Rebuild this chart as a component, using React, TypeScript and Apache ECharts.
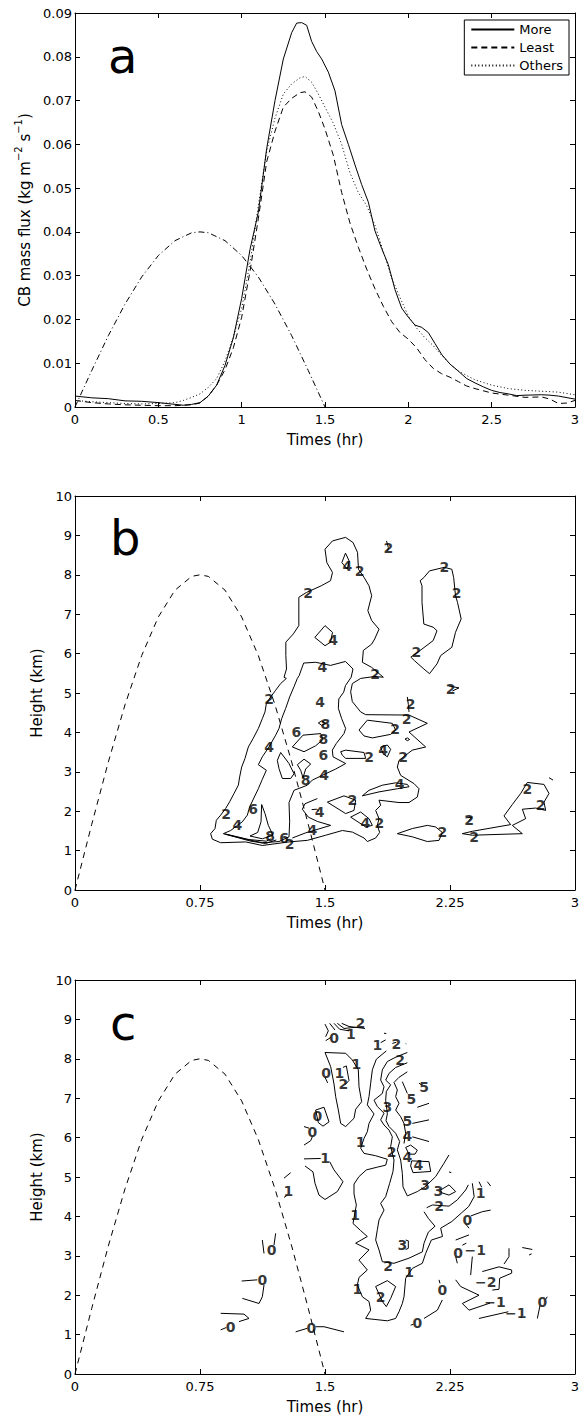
import React, { useEffect, useRef } from "react";
import * as echarts from "echarts";

type Pt = [number, number];
type Lbl = [number, number, string];

// ---------------- Panel a: CB mass flux time series ----------------
const moreFlux: Pt[] = [
  [0, 0.0025], [0.1, 0.0021], [0.2, 0.0019], [0.3, 0.0014], [0.4, 0.0013], [0.5, 0.001], [0.6, 0.0006],
  [0.65, 0.0004], [0.7, 0.0006], [0.75, 0.001], [0.8, 0.0025], [0.85, 0.005], [0.9, 0.0095], [0.95, 0.0158],
  [1.0, 0.0248], [1.05, 0.036], [1.1, 0.0445], [1.15, 0.059], [1.2, 0.07], [1.25, 0.0795], [1.3, 0.0855],
  [1.33, 0.0877], [1.36, 0.0878], [1.39, 0.0872], [1.42, 0.0835], [1.45, 0.0812], [1.48, 0.0795],
  [1.52, 0.0765], [1.56, 0.0722], [1.6, 0.0645], [1.64, 0.06], [1.68, 0.0553], [1.72, 0.0508],
  [1.76, 0.0468], [1.8, 0.0402], [1.84, 0.0362], [1.88, 0.0325], [1.92, 0.0268], [1.96, 0.0226],
  [2.0, 0.0205], [2.04, 0.0187], [2.08, 0.0182], [2.12, 0.017], [2.16, 0.0145], [2.2, 0.012],
  [2.25, 0.0098], [2.3, 0.0082], [2.35, 0.0065], [2.4, 0.0055], [2.45, 0.0046], [2.5, 0.0038],
  [2.55, 0.0033], [2.6, 0.003], [2.65, 0.0026], [2.7, 0.0027], [2.8, 0.0028], [2.85, 0.0027],
  [2.9, 0.0025], [3.0, 0.0018],
];
const leastFlux: Pt[] = [
  [0, 0.0015], [0.1, 0.001], [0.2, 0.0007], [0.3, 0.0005], [0.4, 0.0004], [0.5, 0.0003], [0.6, 0.0003],
  [0.7, 0.0005], [0.75, 0.0009], [0.8, 0.0025], [0.85, 0.005], [0.9, 0.0085], [0.95, 0.0135], [1.0, 0.0205],
  [1.05, 0.031], [1.1, 0.043], [1.15, 0.056], [1.2, 0.063], [1.25, 0.0685], [1.3, 0.0705], [1.35, 0.0718],
  [1.38, 0.072], [1.42, 0.0708], [1.46, 0.0675], [1.5, 0.0635], [1.55, 0.0575], [1.6, 0.049],
  [1.65, 0.042], [1.7, 0.0365], [1.75, 0.0315], [1.8, 0.027], [1.85, 0.023], [1.9, 0.0195],
  [1.95, 0.017], [2.0, 0.0155], [2.05, 0.0135], [2.1, 0.0108], [2.15, 0.0088], [2.2, 0.0076],
  [2.25, 0.0068], [2.3, 0.0058], [2.35, 0.0048], [2.4, 0.0042], [2.5, 0.0032], [2.6, 0.0027],
  [2.7, 0.0022], [2.8, 0.0023], [2.85, 0.0018], [2.9, 0.0008], [2.95, 0.0009], [3.0, 0.0015],
];
const othersFlux: Pt[] = [
  [0, 0.0015], [0.1, 0.0012], [0.2, 0.001], [0.3, 0.0008], [0.4, 0.0007], [0.5, 0.0008], [0.6, 0.001],
  [0.65, 0.0015], [0.7, 0.0022], [0.75, 0.003], [0.8, 0.0045], [0.85, 0.0065], [0.9, 0.0105], [0.95, 0.016],
  [1.0, 0.0225], [1.05, 0.033], [1.1, 0.046], [1.15, 0.0585], [1.2, 0.066], [1.25, 0.0715], [1.3, 0.0738],
  [1.35, 0.0752], [1.38, 0.0755], [1.42, 0.0742], [1.46, 0.0715], [1.5, 0.0685], [1.55, 0.0648],
  [1.6, 0.06], [1.65, 0.0535], [1.7, 0.049], [1.75, 0.046], [1.8, 0.0415], [1.85, 0.0355], [1.9, 0.0295],
  [1.95, 0.025], [2.0, 0.0208], [2.05, 0.018], [2.1, 0.0158], [2.15, 0.014], [2.2, 0.0118], [2.25, 0.0098],
  [2.3, 0.0082], [2.4, 0.0062], [2.5, 0.005], [2.6, 0.0042], [2.7, 0.0038], [2.8, 0.0036], [2.9, 0.0034],
  [3.0, 0.0028],
];
const forcingFlux: Pt[] = [
  [0, 0], [0.1, 0.0083], [0.2, 0.0163], [0.3, 0.0235], [0.4, 0.0297], [0.5, 0.0346], [0.6, 0.038],
  [0.7, 0.0398], [0.75, 0.04], [0.8, 0.0398], [0.9, 0.038], [1.0, 0.0346], [1.1, 0.0297], [1.2, 0.0235],
  [1.3, 0.0163], [1.4, 0.0083], [1.5, 0],
];
const legendNames = ["More", "Least", "Others"];

// ---------------- Forcing height curve (panels b, c) ----------------
const forcingHeight: Pt[] = [
  [0, 0], [0.1, 1.66], [0.2, 3.25], [0.3, 4.7], [0.4, 5.95], [0.5, 6.93], [0.6, 7.61], [0.7, 7.96],
  [0.75, 8.0], [0.8, 7.96], [0.9, 7.61], [1.0, 6.93], [1.1, 5.95], [1.2, 4.7], [1.3, 3.25], [1.4, 1.66], [1.5, 0],
];

// ---------------- Panel b contour lines ----------------
const bOuter2: Pt[] = [
  [1.268, 5.37], [1.234, 5.24], [1.204, 5.07], [1.174, 4.9], [1.148, 4.73], [1.14, 4.52], [1.124, 4.35],
  [1.1, 4.1], [1.068, 3.84], [1.04, 3.63], [1.02, 3.34], [1.0, 3.12], [0.988, 2.87], [0.98, 2.66],
  [0.954, 2.45], [0.928, 2.24], [0.904, 2.07], [0.874, 1.9], [0.848, 1.77], [0.84, 1.56], [0.814, 1.43],
  [0.824, 1.29], [0.874, 1.2], [1.024, 1.22], [1.124, 1.13], [1.284, 1.22], [1.394, 1.26], [1.504, 1.39],
  [1.604, 1.51], [1.664, 1.47], [1.734, 1.32], [1.754, 1.23], [1.804, 1.32], [1.828, 1.46], [1.814, 1.64],
  [1.824, 1.81], [1.804, 2.02], [1.834, 2.15], [1.824, 2.28], [1.944, 2.22], [2.004, 2.22], [2.054, 2.36],
  [2.064, 2.57], [2.034, 2.7], [1.954, 2.91], [1.934, 3.12], [1.944, 3.29], [2.024, 3.55], [2.104, 3.63],
  [2.004, 4.01], [2.114, 4.23], [2.004, 4.44], [1.744, 4.45], [1.714, 4.52], [1.664, 4.78], [1.654, 5.03],
  [1.664, 5.24], [1.714, 5.37], [1.8, 5.42], [1.85, 5.4], [1.78, 5.65], [1.724, 5.78], [1.73, 6.08],
  [1.78, 6.24], [1.798, 6.37], [1.824, 6.62], [1.78, 6.84], [1.757, 7.09], [1.78, 7.47], [1.764, 7.72],
  [1.735, 7.93], [1.701, 8.14], [1.695, 8.57], [1.668, 8.82], [1.623, 8.95], [1.545, 8.86], [1.5, 8.65],
  [1.511, 8.31], [1.545, 8.06], [1.533, 7.85], [1.477, 7.72], [1.388, 7.55], [1.343, 7.43], [1.343, 6.71],
  [1.31, 6.5], [1.265, 6.29], [1.265, 5.95], [1.269, 5.61], [1.254, 5.4],
];
const bMain4: Pt[] = [
  [1.334, 5.37], [1.314, 5.16], [1.288, 4.9], [1.264, 4.61], [1.24, 4.35], [1.224, 4.1], [1.204, 3.93],
  [1.164, 3.63], [1.124, 3.38], [1.1, 3.18], [1.148, 3.04], [1.124, 2.81], [1.1, 2.57], [1.076, 2.36],
  [1.048, 2.11], [1.034, 1.9], [1.004, 1.73], [0.974, 1.64], [0.934, 1.51], [0.89, 1.43], [1.024, 1.29],
  [1.124, 1.2], [1.224, 1.23], [1.284, 1.35], [1.288, 1.73], [1.284, 2.22], [1.314, 2.53], [1.394, 2.66],
  [1.424, 2.79], [1.564, 3.07], [1.624, 3.21], [1.548, 3.38], [1.544, 3.55], [1.568, 3.72], [1.614, 3.97],
  [1.624, 4.1], [1.6, 4.35], [1.58, 4.61], [1.583, 4.85], [1.612, 5.02], [1.623, 5.19], [1.657, 5.4],
  [1.668, 5.61], [1.623, 5.8], [1.533, 5.7], [1.444, 5.78], [1.372, 5.76], [1.359, 5.61], [1.345, 5.44],
];
const bLow4: Pt[] = [[1.304, 1.32], [1.384, 1.45], [1.534, 1.64], [1.454, 1.74], [1.4, 1.85], [1.364, 2.05], [1.38, 2.19], [1.454, 2.32]];
const bSix1: Pt[] = [[1.05, 1.37], [1.096, 1.46], [1.116, 1.73], [1.12, 2.17], [1.14, 1.94], [1.16, 1.64], [1.188, 1.39], [1.124, 1.3]];
const bSix2: Pt[] = [[1.304, 3.63], [1.368, 3.93], [1.474, 3.97], [1.488, 3.82], [1.444, 3.66], [1.374, 3.51]];
const bSix3: Pt[] = [[1.234, 3.49], [1.284, 3.21], [1.314, 2.95], [1.294, 2.83], [1.244, 2.83], [1.224, 3.08], [1.214, 3.29]];
const bSixBase: Pt[] = [[0.898, 1.42], [1.054, 1.24], [1.144, 1.18], [1.208, 1.27]];
const bEightBase: Pt[] = [[0.904, 1.42], [1.044, 1.28], [1.148, 1.24], [1.174, 1.3]];
const bEight1: Pt[] = [[1.334, 3.18], [1.374, 3.32], [1.414, 3.2], [1.384, 3.07], [1.368, 2.85], [1.354, 3.04]];
const bEight2: Pt[] = [[1.46, 4.24], [1.48, 4.29], [1.504, 4.22], [1.48, 4.18]];
const bFourDiamond: Pt[] = [[1.439, 6.41], [1.5, 6.71], [1.545, 6.54], [1.533, 6.29], [1.5, 6.2]];
const bFourTop: Pt[] = [[1.601, 8.31], [1.623, 8.55], [1.645, 8.35], [1.634, 8.14]];
const bFourTick: Pt[] = [[1.42, 2.04], [1.448, 2.05], [1.464, 2.0]];
const bFourTri: Pt[] = [[1.654, 1.85], [1.714, 1.98], [1.764, 1.81], [1.784, 1.64], [1.744, 1.6]];
const bFourLeaf: Pt[] = [[1.724, 2.39], [1.764, 2.53], [1.844, 2.66], [1.924, 2.72], [1.994, 2.68], [2.004, 2.62], [1.934, 2.57], [1.824, 2.49]];
const bFourSmall: Pt[] = [[1.834, 3.63], [1.874, 3.68], [1.894, 3.57], [1.874, 3.38], [1.848, 3.46]];
const bTwoHoleA: Pt[] = [[1.514, 2.23], [1.614, 2.39], [1.684, 2.28], [1.674, 2.02], [1.624, 1.94]];
const bTwoHoleB: Pt[] = [[1.594, 3.51], [1.624, 3.55], [1.734, 3.49], [1.744, 3.34], [1.624, 3.34], [1.604, 3.42]];
const bTwoHoleC: Pt[] = [[1.704, 4.06], [1.754, 4.31], [1.904, 4.23], [1.924, 4.06], [1.894, 3.95], [1.784, 3.86], [1.734, 3.91]];
const bTwoDot: Pt[] = [[1.98, 3.83], [1.994, 3.86], [2.008, 3.82], [1.994, 3.79]];
const bTwoStub: Pt[] = [[1.994, 4.9], [2.0, 4.71], [2.004, 4.52]];
const bTwoHook: Pt[] = [[2.24, 5.18], [2.304, 5.13], [2.264, 5.05]];
const bTwoHigh: Pt[] = [[1.869, 8.86], [1.88, 8.69], [1.876, 8.61]];
const bTwoTall: Pt[] = [
  [2.093, 7.93], [2.127, 8.1], [2.216, 8.19], [2.261, 8.14], [2.272, 7.93], [2.283, 7.47], [2.295, 7.3],
  [2.317, 6.88], [2.283, 6.54], [2.261, 6.16], [2.194, 5.95], [2.172, 5.74], [2.127, 5.49], [2.093, 5.61],
  [2.037, 5.82], [2.015, 5.91], [2.071, 6.08], [2.149, 6.33], [2.172, 6.58], [2.149, 6.67], [2.093, 6.75],
  [2.082, 7.3], [2.082, 7.72], [2.071, 7.85],
];
const bTwoLens: Pt[] = [[1.934, 1.43], [2.024, 1.56], [2.114, 1.64], [2.164, 1.6], [2.204, 1.46], [2.184, 1.26], [2.114, 1.23], [2.024, 1.35]];
const bTwoEast: Pt[] = [
  [2.324, 1.43], [2.384, 1.39], [2.684, 1.43], [2.624, 1.64], [2.704, 1.81], [2.684, 2.05], [2.764, 2.08],
  [2.824, 2.02], [2.814, 2.23], [2.844, 2.45], [2.814, 2.68], [2.714, 2.73], [2.674, 2.45], [2.624, 2.17],
  [2.574, 1.88], [2.614, 1.66], [2.384, 1.49],
];
const bTwoTick: Pt[] = [[2.344, 1.83], [2.384, 1.85], [2.36, 1.75]];
const bTwoCorner: Pt[] = [[2.844, 2.85], [2.868, 2.79]];

const bLabels: Lbl[] = [
  [0.907, 1.94, "2"], [1.164, 4.85, "2"], [1.399, 7.55, "2"], [1.708, 8.1, "2"], [1.8, 5.49, "2"],
  [1.287, 1.17, "2"], [1.826, 1.69, "2"], [1.968, 3.38, "2"], [1.99, 4.35, "2"], [2.014, 4.73, "2"],
  [1.92, 4.08, "2"], [1.764, 3.38, "2"], [1.664, 2.28, "2"], [2.204, 1.46, "2"], [2.254, 5.1, "2"],
  [1.88, 8.69, "2"], [2.216, 8.21, "2"], [2.29, 7.55, "2"], [2.048, 6.03, "2"], [2.714, 2.57, "2"],
  [2.794, 2.15, "2"], [2.394, 1.35, "2"], [2.364, 1.77, "2"],
  [1.164, 3.63, "4"], [0.974, 1.64, "4"], [1.484, 5.65, "4"], [1.471, 4.77, "4"], [1.494, 2.91, "4"],
  [1.424, 1.52, "4"], [1.468, 1.98, "4"], [1.742, 1.71, "4"], [1.848, 3.55, "4"], [1.948, 2.7, "4"],
  [1.549, 6.35, "4"], [1.634, 8.23, "4"],
  [1.068, 2.05, "6"], [1.254, 1.33, "6"], [1.328, 4.01, "6"], [1.49, 3.43, "6"],
  [1.17, 1.37, "8"], [1.384, 2.79, "8"], [1.502, 4.22, "8"], [1.49, 3.82, "8"],
];

// ---------------- Panel c contour lines ----------------
const cFan1: Pt[] = [[1.5, 8.88], [1.52, 8.71], [1.504, 8.56]];
const cFan2: Pt[] = [[1.528, 8.9], [1.56, 8.73]];
const cFan3: Pt[] = [[1.554, 8.9], [1.588, 8.75], [1.644, 8.71]];
const cFan4: Pt[] = [[1.574, 8.9], [1.614, 8.77], [1.684, 8.8]];
const cFan5: Pt[] = [[1.6, 8.9], [1.644, 8.82], [1.74, 8.77]];
const cZeroTop: Pt[] = [[1.504, 8.46], [1.534, 8.54]];
const cOneTick1: Pt[] = [[1.834, 8.41], [1.864, 8.48]];
const cOneTick2: Pt[] = [[1.854, 8.65], [1.868, 8.64]];
const cTwoTick1: Pt[] = [[1.904, 8.39], [1.928, 8.42]];
const cTwoTick2: Pt[] = [[1.984, 8.39], [1.988, 8.38]];
const cOneLoop: Pt[] = [
  [1.5, 8.16], [1.624, 8.14], [1.664, 7.97], [1.7, 7.72], [1.704, 7.29], [1.72, 6.91], [1.684, 6.72],
  [1.674, 6.49], [1.624, 6.28], [1.594, 6.36], [1.58, 6.7], [1.564, 7.04], [1.554, 7.36], [1.534, 7.8],
];
const cTwoSmall: Pt[] = [[1.608, 7.78], [1.628, 7.82], [1.644, 7.45], [1.62, 7.34]];
const cZeroSmall: Pt[] = [[1.5, 7.53], [1.516, 7.39]];
const cOneLong: Pt[] = [
  [1.868, 8.2], [1.808, 7.99], [1.784, 7.72], [1.774, 7.38], [1.764, 7.04], [1.754, 6.83], [1.794, 6.6],
  [1.764, 6.36], [1.754, 6.15], [1.734, 5.98], [1.714, 5.73], [1.734, 5.6], [1.804, 5.54], [1.874, 5.45],
  [1.864, 5.3], [1.814, 5.25], [1.748, 5.18], [1.704, 5.01], [1.674, 4.82], [1.674, 4.57], [1.688, 4.29],
  [1.668, 3.82], [1.714, 3.64], [1.754, 3.49], [1.684, 3.32], [1.764, 3.15], [1.704, 2.89], [1.754, 2.64],
  [1.704, 2.45], [1.694, 2.26], [1.724, 1.96], [1.764, 1.84], [1.774, 1.62], [1.744, 1.41], [1.874, 1.35],
  [1.924, 1.41], [1.944, 1.58], [1.964, 1.79], [1.974, 1.96], [1.984, 2.43], [2.024, 2.68], [2.084, 2.81],
  [2.104, 3.06], [2.138, 3.4], [2.205, 3.49], [2.194, 3.7], [2.261, 3.87], [2.317, 4.08], [2.362, 4.25],
  [2.395, 4.5], [2.384, 4.84],
];
const cTwoLong: Pt[] = [
  [1.994, 8.16], [1.928, 8.05], [1.874, 7.93], [1.844, 7.72], [1.834, 7.46], [1.854, 7.29], [1.844, 7.12],
  [1.794, 6.95], [1.814, 6.79], [1.854, 6.62], [1.834, 6.45], [1.854, 6.32], [1.884, 6.19], [1.904, 6.02],
  [1.894, 5.77], [1.914, 5.43], [1.908, 5.14], [1.888, 4.84], [1.864, 4.5], [1.834, 4.33], [1.854, 4.16],
  [1.824, 3.91], [1.814, 3.66], [1.804, 3.4], [1.824, 3.15], [1.844, 2.85], [1.914, 2.81], [2.004, 2.94],
  [2.084, 3.1], [2.094, 3.32], [2.12, 3.6], [2.16, 3.75], [2.12, 3.95], [2.094, 4.12],
];
const cThreeLong: Pt[] = [
  [1.994, 7.9], [1.924, 7.78], [1.884, 7.63], [1.864, 7.46], [1.894, 7.34], [1.868, 7.17], [1.864, 6.95],
  [1.868, 6.83], [1.874, 6.6], [1.866, 6.43], [1.884, 6.28], [1.924, 6.11], [1.948, 5.9], [1.934, 5.69],
  [1.954, 5.43], [1.964, 5.09], [1.968, 4.75], [1.994, 4.52], [2.054, 4.63], [2.1, 4.75], [2.164, 5.01],
  [2.214, 5.35], [2.244, 5.56],
];
const cFourLong: Pt[] = [
  [1.994, 7.67], [1.944, 7.53], [1.914, 7.4], [1.934, 7.21], [1.924, 7.04], [1.944, 6.87], [1.924, 6.7],
  [1.954, 6.53], [1.974, 6.36], [1.984, 6.11], [1.974, 5.85],
];
const cFive1: Pt[] = [[1.964, 7.42], [1.994, 7.12]];
const cFive2: Pt[] = [[2.054, 6.77], [2.124, 6.87]];
const cFive3: Pt[] = [[2.064, 7.38], [2.08, 7.34]];
const cFive4: Pt[] = [[2.024, 6.36], [2.124, 6.45]];
const cFour1: Pt[] = [[2.024, 6.02], [2.124, 5.9]];
const cFourLoop1: Pt[] = [[1.984, 5.75], [2.014, 5.81], [2.054, 5.68], [2.04, 5.58], [2.004, 5.58]];
const cFourLoop2: Pt[] = [[2.02, 5.41], [2.124, 5.39], [2.134, 5.14], [2.028, 5.11], [2.014, 5.28]];
const cThreeLoop: Pt[] = [[2.194, 4.67], [2.244, 4.8], [2.284, 4.63], [2.244, 4.54], [2.2, 4.6]];
const cTiny1: Pt[] = [[2.244, 5.13], [2.258, 5.11]];
const cTwoEast: Pt[] = [[2.11, 4.22], [2.144, 4.29], [2.244, 4.26], [2.294, 4.42], [2.344, 4.67], [2.36, 4.8]];
const cOneTick3: Pt[] = [[2.424, 4.88], [2.44, 4.74]];
const cOneTick4: Pt[] = [[2.474, 4.88], [2.494, 4.77]];
const cZeroEast1: Pt[] = [[2.374, 4.01], [2.444, 4.12], [2.494, 4.16]];
const cZeroEast2: Pt[] = [[2.344, 3.81], [2.364, 3.7]];
const cZeroLoop: Pt[] = [[1.444, 6.7], [1.494, 6.77], [1.524, 6.4], [1.488, 6.29], [1.46, 6.38]];
const cZeroA: Pt[] = [[1.374, 6.28], [1.404, 6.24]];
const cZeroB: Pt[] = [[1.424, 6.02], [1.414, 5.92], [1.374, 5.81]];
const cOneA: Pt[] = [[1.374, 5.46], [1.474, 5.47]];
const cOneB: Pt[] = [[1.528, 5.39], [1.554, 5.18], [1.608, 4.88], [1.574, 4.63], [1.5, 4.43], [1.464, 4.54], [1.44, 4.84], [1.428, 5.13], [1.38, 5.28]];
const cOneC: Pt[] = [[1.254, 4.97], [1.294, 5.11]];
const cOneD: Pt[] = [[1.254, 4.48], [1.274, 4.54]];
const cZeroC: Pt[] = [[1.124, 3.4], [1.134, 3.06]];
const cZeroD: Pt[] = [[1.204, 3.57], [1.194, 3.27]];
const cZeroE: Pt[] = [[1.0, 2.36], [1.094, 2.39]];
const cZeroF: Pt[] = [[1.134, 2.26], [1.124, 1.96], [1.104, 1.79], [1.004, 1.92]];
const cZeroG: Pt[] = [[0.874, 1.54], [1.014, 1.52], [1.044, 1.41], [0.984, 1.33]];
const cZeroH: Pt[] = [[0.874, 1.12], [0.908, 1.18]];
const cZeroI: Pt[] = [[1.324, 1.07], [1.394, 1.16]];
const cZeroJ: Pt[] = [[1.444, 1.2], [1.494, 1.2], [1.614, 1.07]];
const cTwoLoop: Pt[] = [[1.804, 2.22], [1.874, 2.37], [1.924, 2.22], [1.894, 1.92], [1.868, 1.71], [1.844, 1.84]];
const cThreeTick: Pt[] = [[1.984, 3.4], [2.0, 3.38], [2.0, 3.19], [1.984, 3.16]];
const cZeroK: Pt[] = [[2.014, 1.24], [2.03, 1.26]];
const cZeroL: Pt[] = [[2.094, 1.41], [2.174, 1.62], [2.204, 1.88]];
const cZeroM: Pt[] = [[2.19, 2.3], [2.184, 2.39]];
const cZeroN: Pt[] = [[2.284, 3.4], [2.364, 3.53]];
const cZeroO: Pt[] = [[2.324, 3.27], [2.348, 3.32]];
const cZeroP: Pt[] = [[2.284, 2.98], [2.294, 2.81]];
const cNegOneA: Pt[] = [[2.384, 2.98], [2.374, 2.51]];
const cNegTwo: Pt[] = [[2.444, 2.6], [2.544, 2.72], [2.62, 2.64], [2.62, 2.56], [2.548, 2.43], [2.544, 2.15], [2.504, 2.13]];
const cNegOneB: Pt[] = [[2.284, 2.39], [2.314, 2.22], [2.424, 2.0], [2.324, 1.79], [2.364, 1.62], [2.49, 1.8]];
const cNegOneC: Pt[] = [[2.424, 1.41], [2.6, 1.58]];
const cNegOneD: Pt[] = [[2.674, 1.45], [2.68, 1.42]];
const cZeroQ: Pt[] = [[2.834, 1.96], [2.824, 1.9]];
const cZeroR: Pt[] = [[2.79, 1.74], [2.774, 1.41]];
const cEdgeA: Pt[] = [[2.604, 3.19], [2.604, 2.98], [2.574, 2.79]];
const cEdgeB: Pt[] = [[2.684, 3.21], [2.744, 3.16]];
const cEdgeC: Pt[] = [[2.724, 3.02], [2.74, 3.05]];

const cLabels: Lbl[] = [
  [1.554, 8.52, "0"], [1.506, 7.63, "0"], [1.454, 6.55, "0"], [1.424, 6.15, "0"], [1.18, 3.15, "0"],
  [1.124, 2.39, "0"], [0.934, 1.2, "0"], [1.418, 1.16, "0"], [2.054, 1.29, "0"], [2.204, 2.13, "0"],
  [2.298, 3.06, "0"], [2.354, 3.91, "0"], [2.804, 1.84, "0"],
  [1.655, 8.64, "1"], [1.814, 8.36, "1"], [1.586, 7.63, "1"], [1.688, 7.88, "1"], [1.714, 5.9, "1"],
  [1.5, 5.47, "1"], [1.28, 4.64, "1"], [1.68, 4.04, "1"], [1.694, 2.17, "1"], [2.004, 2.6, "1"],
  [2.433, 4.6, "1"],
  [1.712, 8.92, "2"], [1.928, 8.37, "2"], [1.95, 7.97, "2"], [1.61, 7.35, "2"], [1.9, 5.63, "2"],
  [1.878, 2.74, "2"], [1.834, 1.96, "2"], [2.184, 4.26, "2"],
  [1.874, 6.77, "3"], [2.1, 4.8, "3"], [2.18, 4.65, "3"], [1.964, 3.27, "3"],
  [1.994, 6.04, "4"], [1.994, 5.5, "4"], [2.06, 5.3, "4"],
  [2.094, 7.29, "5"], [2.018, 6.99, "5"], [1.994, 6.43, "5"],
  [2.402, 3.15, "\u22121"], [2.52, 1.83, "\u22121"], [2.645, 1.55, "\u22121"], [2.464, 2.34, "\u22122"],
];

const contoursB: { pts: Pt[]; closed: boolean }[] = [
  { pts: bOuter2, closed: true }, { pts: bMain4, closed: true }, { pts: bLow4, closed: false },
  { pts: bSix1, closed: true }, { pts: bSix2, closed: true }, { pts: bSix3, closed: true },
  { pts: bSixBase, closed: false }, { pts: bEightBase, closed: false }, { pts: bEight1, closed: true },
  { pts: bEight2, closed: true }, { pts: bFourDiamond, closed: true }, { pts: bFourTop, closed: true },
  { pts: bFourTick, closed: false }, { pts: bFourTri, closed: true }, { pts: bFourLeaf, closed: true },
  { pts: bFourSmall, closed: true }, { pts: bTwoHoleA, closed: true }, { pts: bTwoHoleB, closed: true },
  { pts: bTwoHoleC, closed: true }, { pts: bTwoDot, closed: true }, { pts: bTwoStub, closed: false },
  { pts: bTwoHook, closed: false }, { pts: bTwoHigh, closed: false }, { pts: bTwoTall, closed: true },
  { pts: bTwoLens, closed: true }, { pts: bTwoEast, closed: true }, { pts: bTwoTick, closed: false },
  { pts: bTwoCorner, closed: false },
];
const contoursC: { pts: Pt[]; closed: boolean }[] = [
  cFan1, cFan2, cFan3, cFan4, cFan5, cZeroTop, cOneTick1, cOneTick2, cTwoTick1, cTwoTick2, cTwoSmall,
  cZeroSmall, cOneLong, cTwoLong, cThreeLong, cFourLong, cFive1, cFive2, cFive3, cFive4, cFour1, cTiny1,
  cTwoEast, cOneTick3, cOneTick4, cZeroEast1, cZeroEast2, cZeroA, cZeroB, cOneA, cOneB, cOneC, cOneD,
  cZeroC, cZeroD, cZeroE, cZeroF, cZeroG, cZeroH, cZeroI, cZeroJ, cThreeTick, cZeroK, cZeroL, cZeroM,
  cZeroN, cZeroO, cZeroP, cNegOneA, cNegTwo, cNegOneB, cNegOneC, cNegOneD, cZeroQ, cZeroR, cEdgeA, cEdgeB,
  cEdgeC,
].map((pts) => ({ pts, closed: false })).concat([
  { pts: cOneLoop, closed: true }, { pts: cFourLoop1, closed: true }, { pts: cFourLoop2, closed: true },
  { pts: cThreeLoop, closed: true }, { pts: cZeroLoop, closed: true }, { pts: cTwoLoop, closed: true },
]);

const FF = "'DejaVu Sans', sans-serif";
const BLACK = "#000";

function buildOption() {
  const grids = [
    { left: 75, top: 13, width: 500, height: 394 },
    { left: 75, top: 496, width: 500, height: 394 },
    { left: 75, top: 980, width: 500, height: 394 },
  ];
  const axisLine = { show: true, onZero: false, lineStyle: { color: BLACK, width: 1 } };
  const tick = { show: true, inside: true, length: 5, lineStyle: { color: BLACK, width: 1 } };
  const nameStyle = { color: BLACK, fontFamily: FF, fontSize: 15 };
  const lblStyle = { color: BLACK, fontFamily: FF, fontSize: 13 };

  const xAxis: any[] = [];
  const yAxis: any[] = [];
  grids.forEach((_, g) => {
    const isA = g === 0;
    const xInt = isA ? 0.5 : 0.75;
    xAxis.push({
      gridIndex: g, type: "value", min: 0, max: 3, interval: xInt, position: "bottom",
      axisLine, axisTick: tick, splitLine: { show: false },
      axisLabel: { ...lblStyle, margin: 6, showMinLabel: true, showMaxLabel: true, formatter: (v: number) => String(v) },
      name: "Times (hr)", nameLocation: "middle", nameGap: 25, nameTextStyle: nameStyle,
    });
    xAxis.push({
      gridIndex: g, type: "value", min: 0, max: 3, interval: xInt, position: "top",
      axisLine, axisTick: tick, splitLine: { show: false }, axisLabel: { show: false },
    });
    yAxis.push({
      gridIndex: g, type: "value", min: 0, max: isA ? 0.09 : 10, interval: isA ? 0.01 : 1, position: "left",
      axisLine, axisTick: tick, splitLine: { show: false },
      axisLabel: {
        ...lblStyle, margin: 3, showMinLabel: true, showMaxLabel: true,
        formatter: (v: number) => (isA ? (v === 0 ? "0" : v.toFixed(2)) : String(Math.round(v))),
      },
      name: isA ? "{n|CB mass flux (kg m}{s|\u22122}{n| s}{s|\u22121}{n|)}" : "Height (km)",
      nameLocation: "middle", nameGap: isA ? 35 : 26,
      nameTextStyle: {
        ...nameStyle,
        rich: {
          n: { fontSize: 15, fontFamily: FF, color: BLACK, lineHeight: 22 },
          s: { fontSize: 10, fontFamily: FF, color: BLACK, lineHeight: 10, verticalAlign: "top" },
        },
      },
    });
    yAxis.push({
      gridIndex: g, type: "value", min: 0, max: isA ? 0.09 : 10, interval: isA ? 0.01 : 1, position: "right",
      axisLine, axisTick: tick, splitLine: { show: false }, axisLabel: { show: false },
    });
  });

  const lineS = (name: string, data: Pt[], type: any, g: number) => ({
    name, type: "line", xAxisIndex: g * 2, yAxisIndex: g * 2, data, symbol: "none", showSymbol: false,
    lineStyle: { color: BLACK, width: 1, type }, itemStyle: { color: BLACK }, silent: true,
  });

  const series: any[] = [
    lineS("More", moreFlux, "solid", 0),
    lineS("Least", leastFlux, [6, 4], 0),
    lineS("Others", othersFlux, [1, 2.5], 0),
    lineS("Forcing", forcingFlux, [6, 3, 1, 3], 0),
    lineS("ForcingB", forcingHeight, [6, 5], 1),
    lineS("ForcingC", forcingHeight, [6, 5], 2),
  ];
  const addContours = (list: { pts: Pt[]; closed: boolean }[], g: number) => {
    list.forEach((c, i) => {
      series.push(lineS(`c${g}_${i}`, c.closed ? [...c.pts, c.pts[0]] : c.pts, "solid", g));
    });
  };
  addContours(contoursB, 1);
  addContours(contoursC, 2);
  const addLabels = (labels: Lbl[], g: number) => {
    series.push({
      type: "scatter", xAxisIndex: g * 2, yAxisIndex: g * 2, data: labels, symbol: "circle", symbolSize: 1,
      itemStyle: { color: "rgba(0,0,0,0)" }, silent: true, z: 5,
      label: {
        show: true, position: "inside", formatter: (p: any) => p.data[2],
        color: BLACK, fontFamily: FF, fontWeight: "bold", fontSize: 14,
      },
    });
  };
  addLabels(bLabels, 1);
  addLabels(cLabels, 2);

  return {
    animation: false,
    backgroundColor: "#fff",
    grid: grids,
    xAxis,
    yAxis,
    legend: {
      data: legendNames, orient: "vertical", right: 15, top: 20, itemWidth: 43, itemHeight: 14, itemGap: 5,
      borderColor: BLACK, borderWidth: 1, backgroundColor: "#fff", padding: [3, 6, 3, 6],
      itemStyle: { color: "rgba(0,0,0,0)", borderColor: "rgba(0,0,0,0)", borderWidth: 0 },
      textStyle: { color: BLACK, fontFamily: FF, fontSize: 13 },
    },
    graphic: [
      { type: "text", left: 108, top: 32, style: { text: "a", font: `48px ${FF}`, fill: BLACK } },
      { type: "text", left: 110, top: 514, style: { text: "b", font: `48px ${FF}`, fill: BLACK } },
      { type: "text", left: 110, top: 999, style: { text: "c", font: `48px ${FF}`, fill: BLACK } },
    ],
    series,
  };
}

export default function App() {
  const ref = useRef<HTMLDivElement>(null);
  useEffect(() => {
    if (!ref.current) return;
    const chart = echarts.init(ref.current, undefined, { renderer: "svg" });
    chart.setOption(buildOption() as any);
    return () => chart.dispose();
  }, []);
  return (
    <div
      ref={ref}
      style={{ position: "absolute", left: 0, top: 0, width: 584, height: 1416, background: "#fff" }}
    />
  );
}
